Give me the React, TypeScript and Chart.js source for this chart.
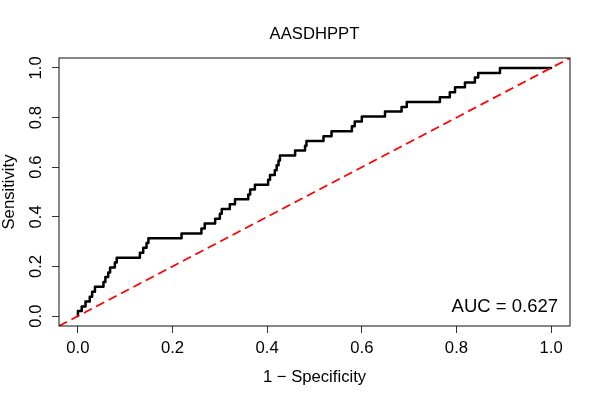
import React, { useEffect, useRef } from "react";
import { Chart, registerables } from "chart.js";

Chart.register(...registerables);

const chartTitle = "AASDHPPT";
const xAxisTitle = "1 \u2212 Specificity";
const yAxisTitle = "Sensitivity";
const aucLabel = "AUC = 0.627";

const xTicks = [0, 0.2, 0.4, 0.6, 0.8, 1.0];
const yTicks = [0, 0.2, 0.4, 0.6, 0.8, 1.0];
const xTickLabels = ["0.0", "0.2", "0.4", "0.6", "0.8", "1.0"];
const yTickLabels = ["0.0", "0.2", "0.4", "0.6", "0.8", "1.0"];

// ROC step vertices: x where each vertical jump happens, new sensitivity level
const fpr = [
  0, 0, 0.008, 0.016, 0.025, 0.03, 0.036, 0.054, 0.058, 0.064, 0.068, 0.078,
  0.082, 0.131, 0.138, 0.145, 0.149, 0.219, 0.261, 0.268, 0.29, 0.3, 0.304,
  0.321, 0.332, 0.36, 0.364, 0.374, 0.402, 0.406, 0.416, 0.42, 0.424, 0.427,
  0.459, 0.48, 0.483, 0.519, 0.536, 0.579, 0.585, 0.6, 0.649, 0.684, 0.695,
  0.765, 0.786, 0.797, 0.818, 0.839, 0.846, 0.892, 1.0,
];
const tpr = [
  0, 0.02, 0.039, 0.059, 0.078, 0.098, 0.118, 0.137, 0.157, 0.176, 0.196,
  0.216, 0.235, 0.255, 0.275, 0.294, 0.314, 0.333, 0.353, 0.373, 0.392, 0.412,
  0.431, 0.451, 0.471, 0.49, 0.51, 0.529, 0.549, 0.569, 0.588, 0.608, 0.627,
  0.647, 0.667, 0.686, 0.706, 0.725, 0.745, 0.765, 0.784, 0.804, 0.824, 0.843,
  0.863, 0.882, 0.902, 0.922, 0.941, 0.961, 0.98, 1.0, 1.0,
];

const axisMin = -0.04;
const axisMax = 1.04;
const diagX = [axisMin, axisMax];
const diagY = [axisMin, axisMax];

const FONT = "'Liberation Sans', Arial, Helvetica, sans-serif";

export default function App() {
  const canvasRef = useRef<HTMLCanvasElement | null>(null);

  useEffect(() => {
    document.body.style.margin = "0";
    const canvas = canvasRef.current;
    if (!canvas) return;

    const rocPoints: { x: number; y: number }[] = [];
    for (let i = 0; i < fpr.length; i++) {
      if (i > 0) rocPoints.push({ x: fpr[i], y: tpr[i - 1] });
      rocPoints.push({ x: fpr[i], y: tpr[i] });
    }
    const diagPoints = diagX.map((x, i) => ({ x, y: diagY[i] }));

    const boxPlugin = {
      id: "boxAndAuc",
      afterDraw(chart: any) {
        const { ctx, chartArea } = chart;
        ctx.save();
        ctx.strokeStyle = "#111";
        ctx.lineWidth = 1;
        ctx.strokeRect(
          chartArea.left,
          chartArea.top,
          chartArea.right - chartArea.left,
          chartArea.bottom - chartArea.top
        );
        ctx.fillStyle = "#000";
        ctx.font = `18.5px ${FONT}`;
        ctx.textAlign = "right";
        ctx.textBaseline = "alphabetic";
        ctx.fillText(aucLabel, chartArea.right - 12, chartArea.bottom - 14);
        ctx.restore();
      },
    };

    const chart = new Chart(canvas, {
      type: "scatter",
      data: {
        datasets: [
          {
            data: diagPoints,
            showLine: true,
            borderColor: "#ff0000",
            borderWidth: 1.8,
            borderDash: [9, 5],
            pointRadius: 0,
            fill: false,
          },
          {
            data: rocPoints,
            showLine: true,
            borderColor: "#000000",
            borderWidth: 2.5,
            borderJoinStyle: "round",
            borderCapStyle: "round",
            pointRadius: 0,
            fill: false,
          },
        ],
      },
      options: {
        responsive: false,
        animation: false,
        events: [],
        layout: { padding: { left: 0, right: 30, top: 0, bottom: 0 } },
        plugins: {
          legend: { display: false },
          tooltip: { enabled: false },
          title: {
            display: true,
            text: chartTitle,
            fullSize: false,
            color: "#000",
            font: { family: FONT, size: 16.67, weight: "normal", lineHeight: 1.2 },
            padding: { top: 24, bottom: 14 },
          },
        },
        scales: {
          x: {
            type: "linear",
            min: axisMin,
            max: axisMax,
            afterBuildTicks: (scale: any) => {
              scale.ticks = xTicks.map((v) => ({ value: v }));
            },
            afterFit: (scale: any) => {
              scale.height = 74;
            },
            grid: {
              display: true,
              drawOnChartArea: false,
              drawTicks: true,
              tickLength: 7,
              color: "#333",
              lineWidth: 1,
            },
            border: { display: false },
            ticks: {
              autoSkip: false,
              padding: 5,
              color: "#000",
              font: { family: FONT, size: 16.67 },
              maxRotation: 0,
              minRotation: 0,
              callback: (_v: any, i: number) => xTickLabels[i],
            },
            title: {
              display: true,
              text: xAxisTitle,
              color: "#000",
              font: { family: FONT, size: 16.67, lineHeight: 1 },
              padding: { top: 0, bottom: 14 },
            },
          },
          y: {
            type: "linear",
            min: axisMin,
            max: axisMax,
            afterBuildTicks: (scale: any) => {
              scale.ticks = yTicks.map((v) => ({ value: v }));
            },
            afterFit: (scale: any) => {
              scale.width = 59;
            },
            grid: {
              display: true,
              drawOnChartArea: false,
              drawTicks: true,
              tickLength: 7,
              color: "#333",
              lineWidth: 1,
            },
            border: { display: false },
            ticks: {
              autoSkip: false,
              padding: 4,
              color: "#000",
              crossAlign: "center",
              minRotation: 90,
              maxRotation: 90,
              font: { family: FONT, size: 16.67 },
              callback: (_v: any, i: number) => yTickLabels[i],
            },
            title: {
              display: true,
              text: yAxisTitle,
              color: "#000",
              font: { family: FONT, size: 16.67, lineHeight: 1 },
              padding: { top: 1, bottom: 0 },
            },
          },
        },
      } as any,
      plugins: [boxPlugin],
    });

    return () => {
      chart.destroy();
    };
  }, []);

  return (
    <div style={{ position: "absolute", left: 0, top: 0, width: 600, height: 400, background: "#fff" }}>
      <canvas ref={canvasRef} width={600} height={400} style={{ width: 600, height: 400 }} />
    </div>
  );
}
